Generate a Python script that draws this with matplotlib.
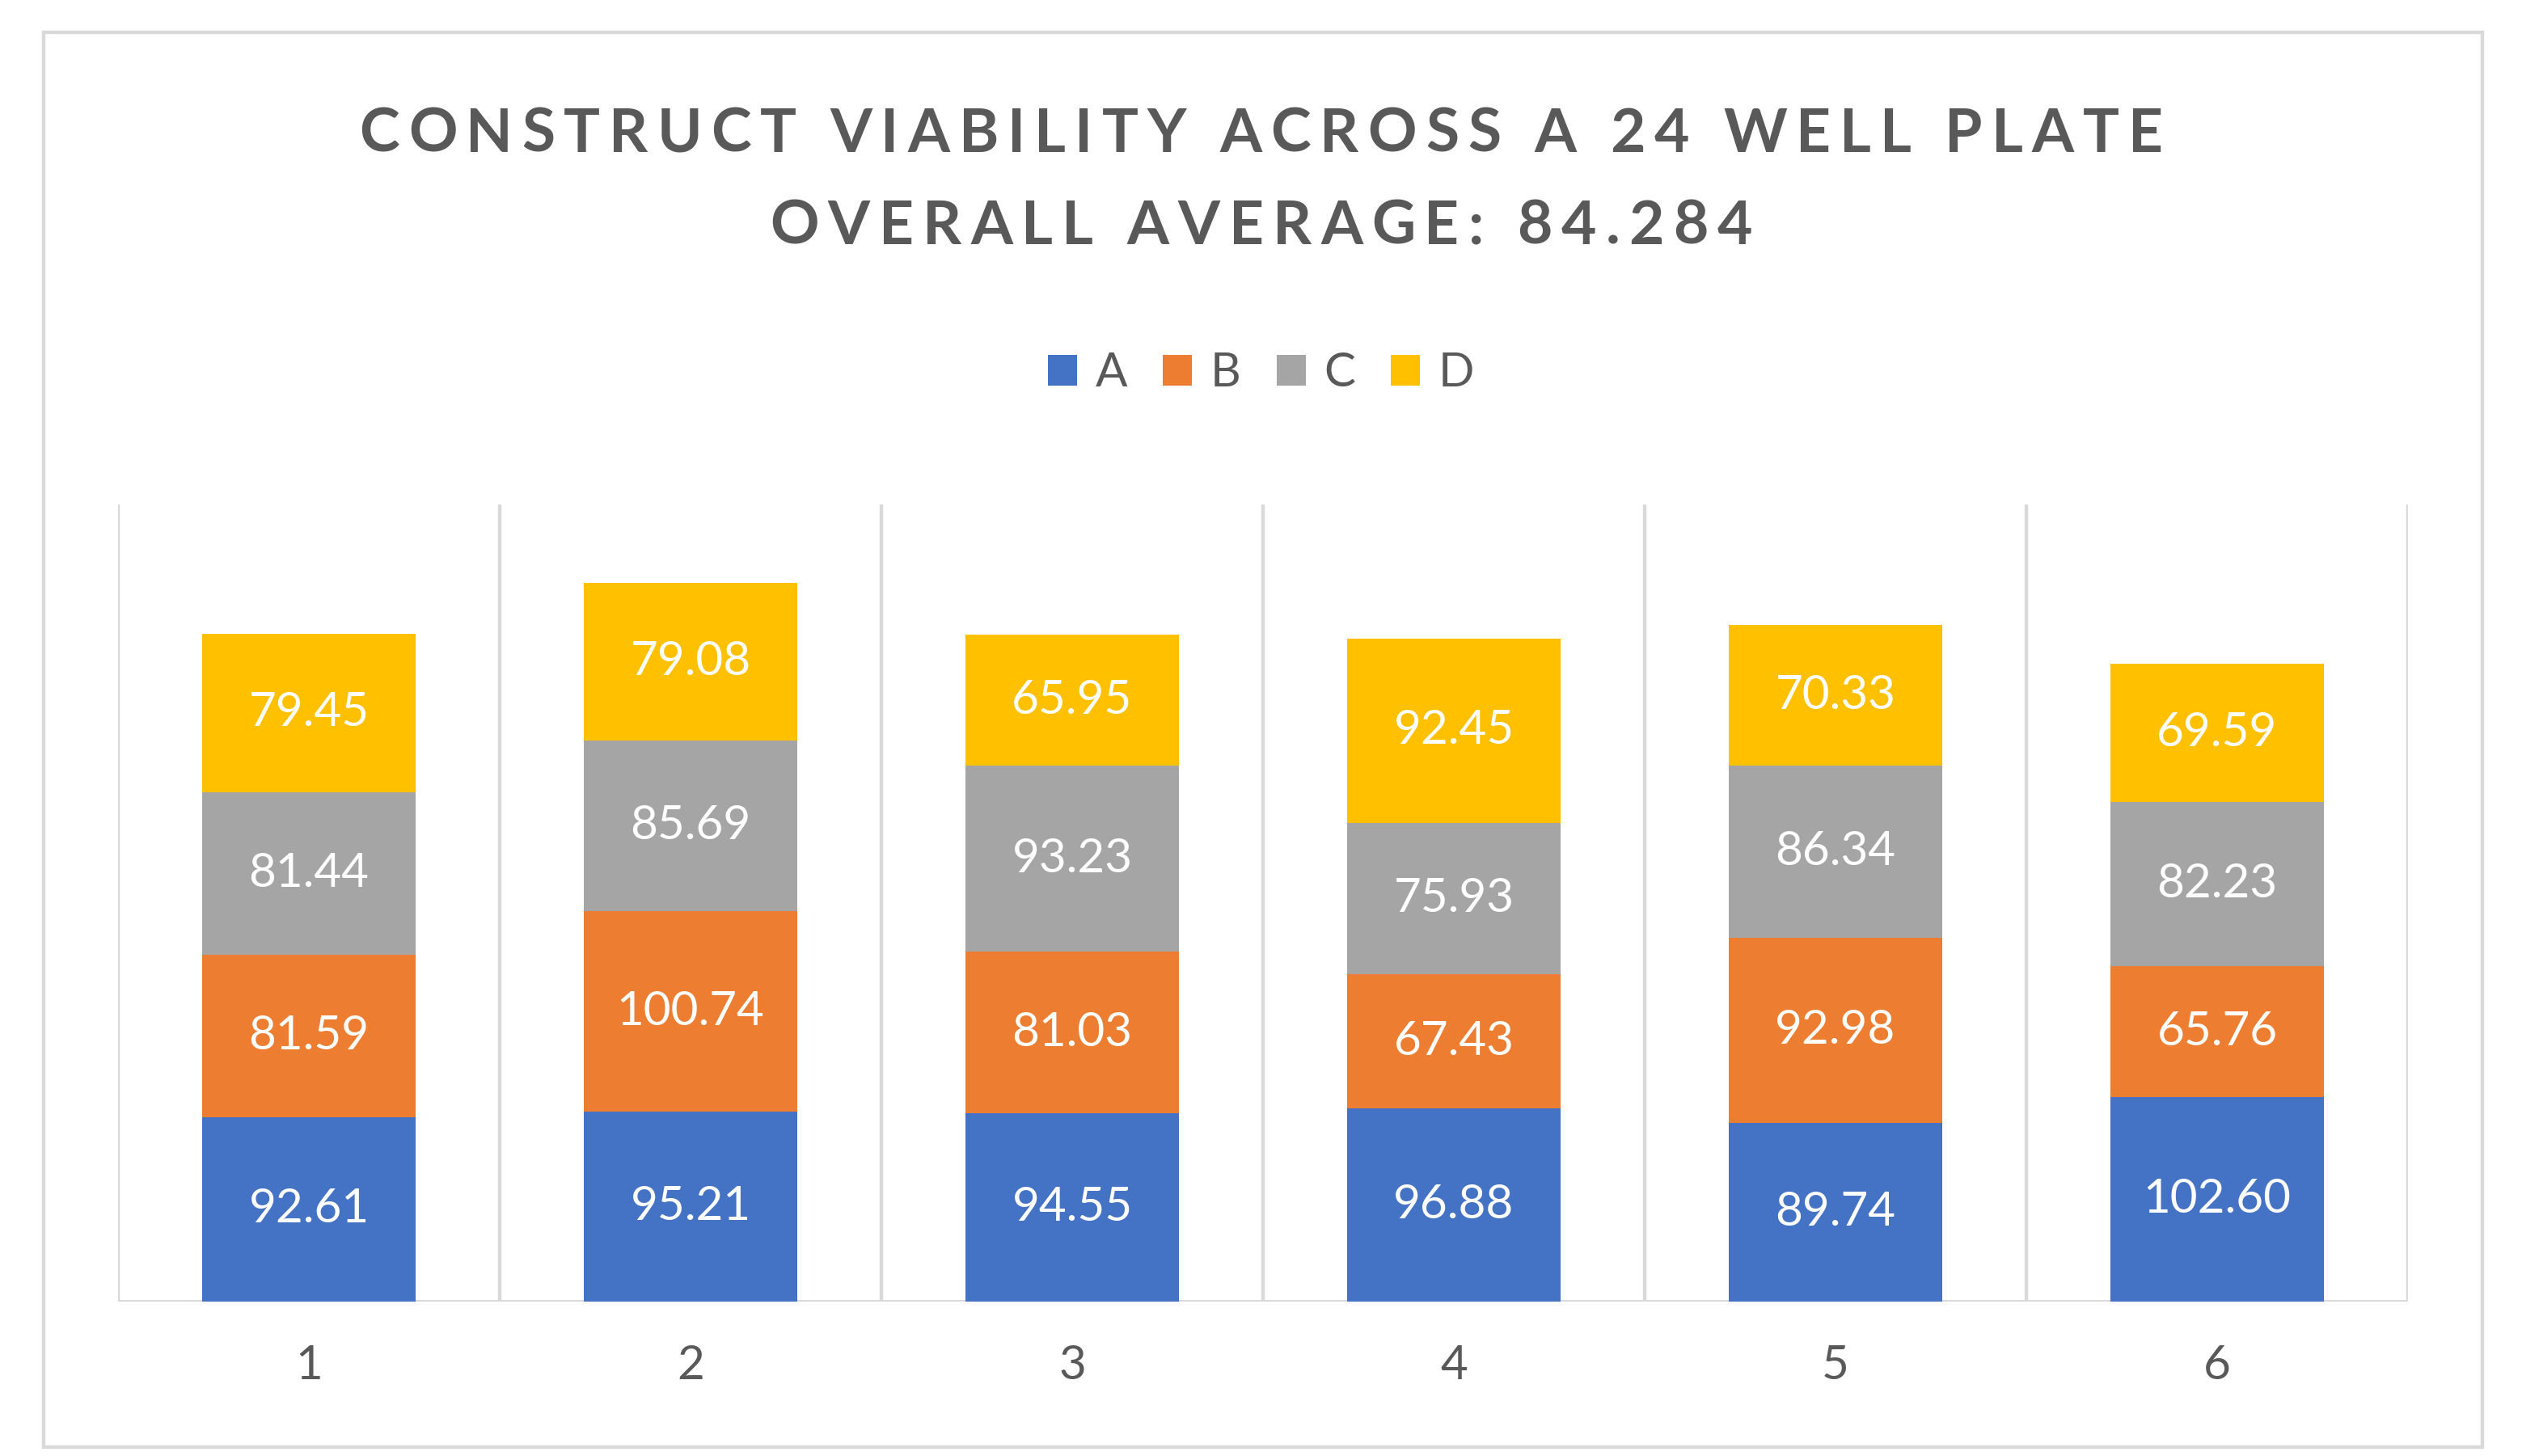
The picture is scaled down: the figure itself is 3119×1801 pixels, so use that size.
"""
plot.py

Stacked column chart of construct viability across a 24 well plate.
"""

import matplotlib.pyplot as plt
from matplotlib.patches import Rectangle, Patch

columns = ["1", "2", "3", "4", "5", "6"]
rows = ["A", "B", "C", "D"]
row_a = [92.61, 95.21, 94.55, 96.88, 89.74, 102.60]
row_b = [81.59, 100.74, 81.03, 67.43, 92.98, 65.76]
row_c = [81.44, 85.69, 93.23, 75.93, 86.34, 82.23]
row_d = [79.45, 79.08, 65.95, 92.45, 70.33, 69.59]
title_lines = ["CONSTRUCT VIABILITY ACROSS A 24 WELL PLATE",
               "OVERALL AVERAGE: 84.284"]

colors = ["#4472C4", "#ED7D31", "#A5A5A5", "#FFC000"]
text_gray = "#595959"
line_gray = "#D9D9D9"
FONT = "Lato"

DPI = 200
W, H = 3119, 1801


def spaced_text(fig, renderer, s, y, size, spacing_px):
    """Draw text centred at x=0.5 with extra letter spacing."""
    chars = []
    widths = []
    for ch in s:
        t = fig.text(0, y, ch if ch != " " else "\u00a0", fontsize=size,
                     fontweight="bold", family=FONT, color=text_gray,
                     va="center", ha="left")
        w = t.get_window_extent(renderer=renderer).width
        if ch == " ":
            w = size * DPI / 72 * 0.26
        chars.append(t)
        widths.append(w)
    total = sum(widths) + spacing_px * (len(s) - 1)
    x = (W - total) / 2
    for t, w in zip(chars, widths):
        t.set_x(x / W)
        x += w + spacing_px


def plot_chart():
    fig = plt.figure(figsize=(W / DPI, H / DPI), dpi=DPI)
    ax = fig.add_axes([146 / W, 1 - 1610 / H, (2978 - 146) / W,
                       (1610 - 624) / H])

    series = [row_a, row_b, row_c, row_d]
    x = list(range(len(columns)))
    bottom = [0.0] * len(columns)
    for name, vals, col in zip(rows, series, colors):
        bars = ax.bar(x, vals, width=0.56, bottom=bottom, color=col,
                      label=name, zorder=3)
        for rect, v in zip(bars, vals):
            ax.text(rect.get_x() + rect.get_width() / 2,
                    rect.get_y() + rect.get_height() / 2,
                    f"{v:.2f}", ha="center", va="center", color="white",
                    fontsize=21, family=FONT, zorder=4)
        bottom = [b + v for b, v in zip(bottom, vals)]

    ax.set_xlim(-0.5, len(columns) - 0.5)
    ax.set_ylim(0, 400)
    for i in range(len(columns) + 1):
        ax.axvline(i - 0.5, color=line_gray, linewidth=1.6, zorder=1)
    ax.axhline(0, color=line_gray, linewidth=1.8, zorder=2)

    for s in ax.spines.values():
        s.set_visible(False)
    ax.set_yticks([])
    ax.set_xticks(x)
    ax.set_xticklabels(columns, fontsize=21, family=FONT, color=text_gray)
    ax.tick_params(axis="x", length=0, pad=19)

    handles = [Patch(facecolor=c, label=n) for n, c in zip(rows, colors)]
    leg = fig.legend(handles=handles, loc="center",
                     bbox_to_anchor=(0.5, 1 - 462 / H), ncol=4,
                     frameon=False, handlelength=0.62, handleheight=0.62,
                     handletextpad=0.38, columnspacing=0.76,
                     prop={"family": FONT, "size": 21})
    for t in leg.get_texts():
        t.set_color(text_gray)

    fig.patches.append(Rectangle((54 / W, 1 - 1790 / H), (3070 - 54) / W,
                                 (1790 - 40) / H, transform=fig.transFigure,
                                 fill=False, edgecolor=line_gray,
                                 linewidth=1.6))

    renderer = fig.canvas.get_renderer()
    spaced_text(fig, renderer, title_lines[0], 1 - 166 / H, 27, 11)
    spaced_text(fig, renderer, title_lines[1], 1 - 280 / H, 27, 11)

    return fig


if __name__ == "__main__":
    figure = plot_chart()
    figure.savefig("out.png", dpi=DPI)
